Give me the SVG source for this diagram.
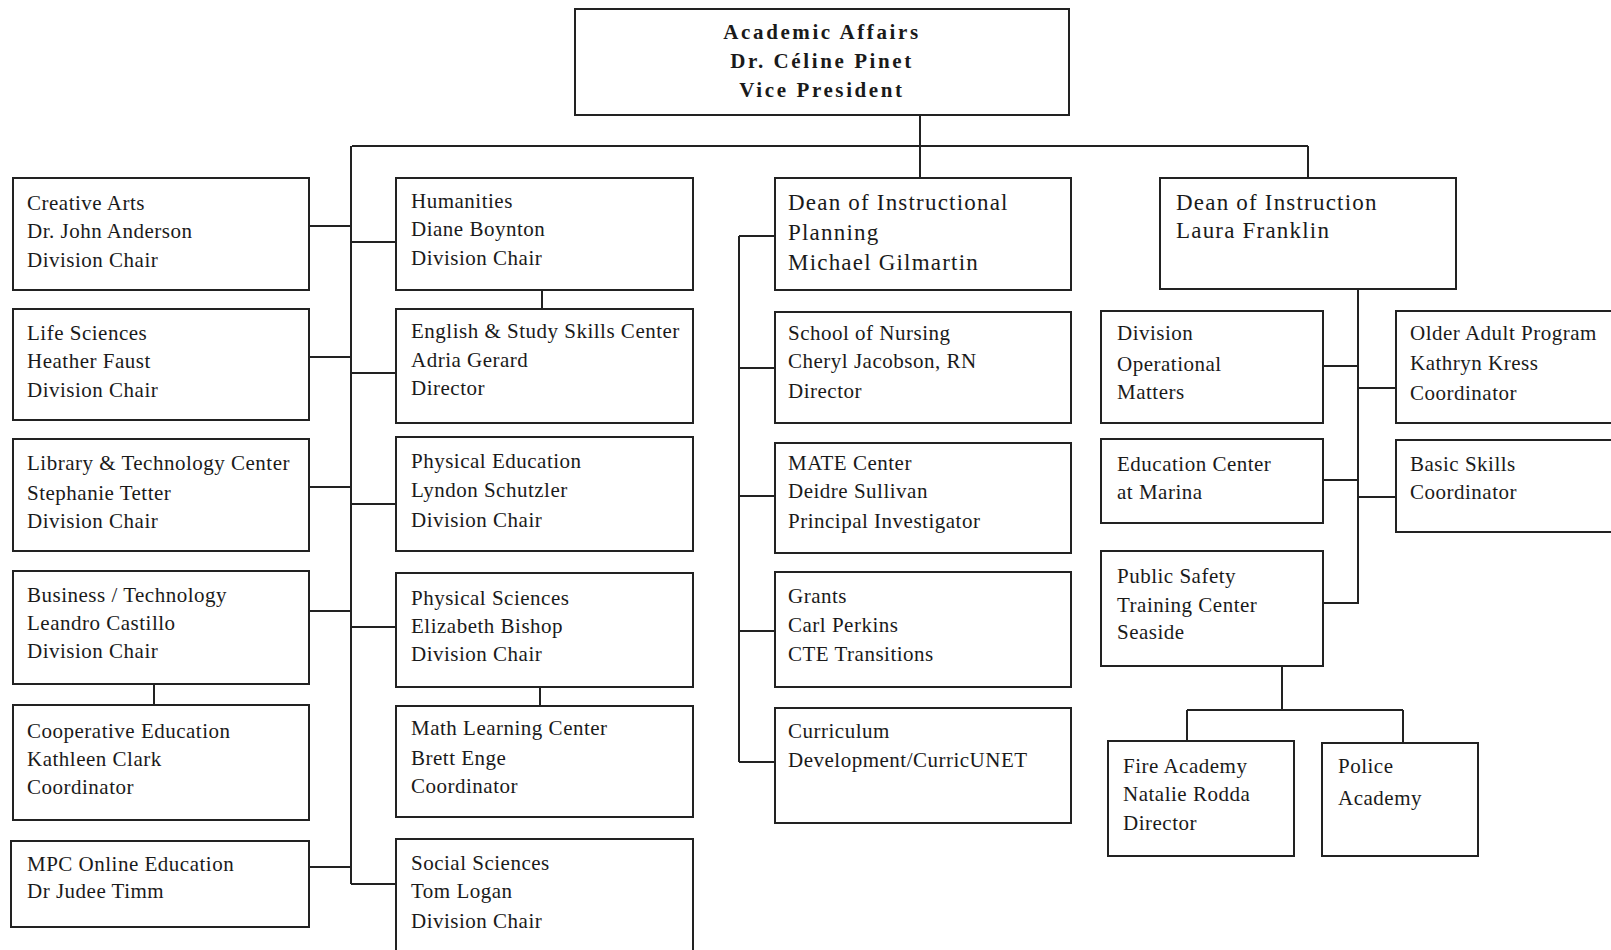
<svg xmlns="http://www.w3.org/2000/svg" width="1611" height="950" viewBox="0 0 1611 950">
<style>
  .box { fill: #fff; stroke: #222; stroke-width: 2; }
  .ln { fill: none; stroke: #222; stroke-width: 2; }
  text { font-family: "Liberation Serif", "Times New Roman", serif; fill: #1a1a1a; }
  .t { font-size: 21px; letter-spacing: 0.5px; }
  .d { font-size: 23px; letter-spacing: 1.2px; }
  .h { font-size: 21px; font-weight: bold; letter-spacing: 2.6px; text-anchor: middle; }
</style>
<rect width="1611" height="950" fill="#fff"/>
<g id="connectors">
  <path class="ln" d="M920 115 V146 M352 146 H1308 M920 146 V178 M1308 146 V178"/>
  <path class="ln" d="M351 146 V884 M309 226 H351 M351 242 H397 M309 357 H351 M351 373 H397 M309 487 H351 M351 504 H397 M309 611 H351 M351 627 H397 M309 867 H351 M351 884 H397"/>
  <path class="ln" d="M154 684 V705 M542 290 V309 M540 687 V706"/>
  <path class="ln" d="M739 236 V762 M739 236 H775 M739 368 H775 M739 496 H775 M739 631 H775 M739 762 H775"/>
  <path class="ln" d="M1358 289 V603 H1323 M1323 366 H1358 M1358 388 H1396 M1323 480 H1358 M1358 497 H1396"/>
  <path class="ln" d="M1282 666 V710 M1187 710 H1403 M1187 710 V741 M1403 710 V743"/>
</g>
<g id="n-top">
  <rect class="box" x="575" y="9" width="494" height="106"/>
  <text class="h" x="822" y="39">Academic Affairs</text>
  <text class="h" x="822" y="68">Dr. Céline Pinet</text>
  <text class="h" x="822" y="97">Vice President</text>
</g>
<g id="n-creative">
  <rect class="box" x="13" y="178" width="296" height="112"/>
  <text class="t" x="27" y="210">Creative Arts</text>
  <text class="t" x="27" y="238">Dr. John Anderson</text>
  <text class="t" x="27" y="267">Division Chair</text>
</g>
<g id="n-life">
  <rect class="box" x="13" y="309" width="296" height="111"/>
  <text class="t" x="27" y="340">Life Sciences</text>
  <text class="t" x="27" y="368">Heather Faust</text>
  <text class="t" x="27" y="397">Division Chair</text>
</g>
<g id="n-library">
  <rect class="box" x="13" y="439" width="296" height="112"/>
  <text class="t" x="27" y="470">Library &amp; Technology Center</text>
  <text class="t" x="27" y="500">Stephanie Tetter</text>
  <text class="t" x="27" y="528">Division Chair</text>
</g>
<g id="n-business">
  <rect class="box" x="13" y="571" width="296" height="113"/>
  <text class="t" x="27" y="602">Business / Technology</text>
  <text class="t" x="27" y="630">Leandro Castillo</text>
  <text class="t" x="27" y="658">Division Chair</text>
</g>
<g id="n-coop">
  <rect class="box" x="13" y="705" width="296" height="115"/>
  <text class="t" x="27" y="738">Cooperative Education</text>
  <text class="t" x="27" y="766">Kathleen  Clark</text>
  <text class="t" x="27" y="794">Coordinator</text>
</g>
<g id="n-mpc">
  <rect class="box" x="11" y="841" width="298" height="86"/>
  <text class="t" x="27" y="871">MPC Online Education</text>
  <text class="t" x="27" y="898">Dr Judee Timm</text>
</g>
<g id="n-humanities">
  <rect class="box" x="396" y="178" width="297" height="112"/>
  <text class="t" x="411" y="208">Humanities</text>
  <text class="t" x="411" y="236">Diane Boynton</text>
  <text class="t" x="411" y="265">Division Chair</text>
</g>
<g id="n-english">
  <rect class="box" x="396" y="309" width="297" height="114"/>
  <text class="t" x="411" y="338">English &amp; Study Skills Center</text>
  <text class="t" x="411" y="367">Adria Gerard</text>
  <text class="t" x="411" y="395">Director</text>
</g>
<g id="n-pe">
  <rect class="box" x="396" y="437" width="297" height="114"/>
  <text class="t" x="411" y="468">Physical Education</text>
  <text class="t" x="411" y="497">Lyndon Schutzler</text>
  <text class="t" x="411" y="527">Division Chair</text>
</g>
<g id="n-physci">
  <rect class="box" x="396" y="573" width="297" height="114"/>
  <text class="t" x="411" y="605">Physical Sciences</text>
  <text class="t" x="411" y="633">Elizabeth Bishop</text>
  <text class="t" x="411" y="661">Division Chair</text>
</g>
<g id="n-math">
  <rect class="box" x="396" y="706" width="297" height="111"/>
  <text class="t" x="411" y="735">Math Learning Center</text>
  <text class="t" x="411" y="765">Brett Enge</text>
  <text class="t" x="411" y="793">Coordinator</text>
</g>
<g id="n-social">
  <rect class="box" x="396" y="839" width="297" height="115"/>
  <text class="t" x="411" y="870">Social Sciences</text>
  <text class="t" x="411" y="898">Tom Logan</text>
  <text class="t" x="411" y="928">Division Chair</text>
</g>
<g id="n-dean-planning">
  <rect class="box" x="775" y="178" width="296" height="112"/>
  <text class="d" x="788" y="210">Dean of Instructional</text>
  <text class="d" x="788" y="240">Planning</text>
  <text class="d" x="788" y="270">Michael Gilmartin</text>
</g>
<g id="n-nursing">
  <rect class="box" x="775" y="312" width="296" height="111"/>
  <text class="t" x="788" y="340">School of Nursing</text>
  <text class="t" x="788" y="368">Cheryl Jacobson, RN</text>
  <text class="t" x="788" y="398">Director</text>
</g>
<g id="n-mate">
  <rect class="box" x="775" y="443" width="296" height="110"/>
  <text class="t" x="788" y="470">MATE Center</text>
  <text class="t" x="788" y="498">Deidre Sullivan</text>
  <text class="t" x="788" y="528">Principal Investigator</text>
</g>
<g id="n-grants">
  <rect class="box" x="775" y="572" width="296" height="115"/>
  <text class="t" x="788" y="603">Grants</text>
  <text class="t" x="788" y="632">Carl Perkins</text>
  <text class="t" x="788" y="661">CTE Transitions</text>
</g>
<g id="n-curriculum">
  <rect class="box" x="775" y="708" width="296" height="115"/>
  <text class="t" x="788" y="738">Curriculum</text>
  <text class="t" x="788" y="767">Development/CurricUNET</text>
</g>
<g id="n-dean-instruction">
  <rect class="box" x="1160" y="178" width="296" height="111"/>
  <text class="d" x="1176" y="210">Dean of Instruction</text>
  <text class="d" x="1176" y="238">Laura Franklin</text>
</g>
<g id="n-division-ops">
  <rect class="box" x="1101" y="311" width="222" height="112"/>
  <text class="t" x="1117" y="340">Division</text>
  <text class="t" x="1117" y="371">Operational</text>
  <text class="t" x="1117" y="399">Matters</text>
</g>
<g id="n-older-adult">
  <rect class="box" x="1396" y="311" width="220" height="112"/>
  <text class="t" x="1410" y="340">Older Adult Program</text>
  <text class="t" x="1410" y="370">Kathryn Kress</text>
  <text class="t" x="1410" y="400">Coordinator</text>
</g>
<g id="n-marina">
  <rect class="box" x="1101" y="439" width="222" height="84"/>
  <text class="t" x="1117" y="471">Education Center</text>
  <text class="t" x="1117" y="499">at Marina</text>
</g>
<g id="n-basic-skills">
  <rect class="box" x="1396" y="440" width="220" height="92"/>
  <text class="t" x="1410" y="471">Basic Skills</text>
  <text class="t" x="1410" y="499">Coordinator</text>
</g>
<g id="n-public-safety">
  <rect class="box" x="1101" y="551" width="222" height="115"/>
  <text class="t" x="1117" y="583">Public Safety</text>
  <text class="t" x="1117" y="612">Training Center</text>
  <text class="t" x="1117" y="639">Seaside</text>
</g>
<g id="n-fire">
  <rect class="box" x="1108" y="741" width="186" height="115"/>
  <text class="t" x="1123" y="773">Fire Academy</text>
  <text class="t" x="1123" y="801">Natalie Rodda</text>
  <text class="t" x="1123" y="830">Director</text>
</g>
<g id="n-police">
  <rect class="box" x="1322" y="743" width="156" height="113"/>
  <text class="t" x="1338" y="773">Police</text>
  <text class="t" x="1338" y="805">Academy</text>
</g>
</svg>
